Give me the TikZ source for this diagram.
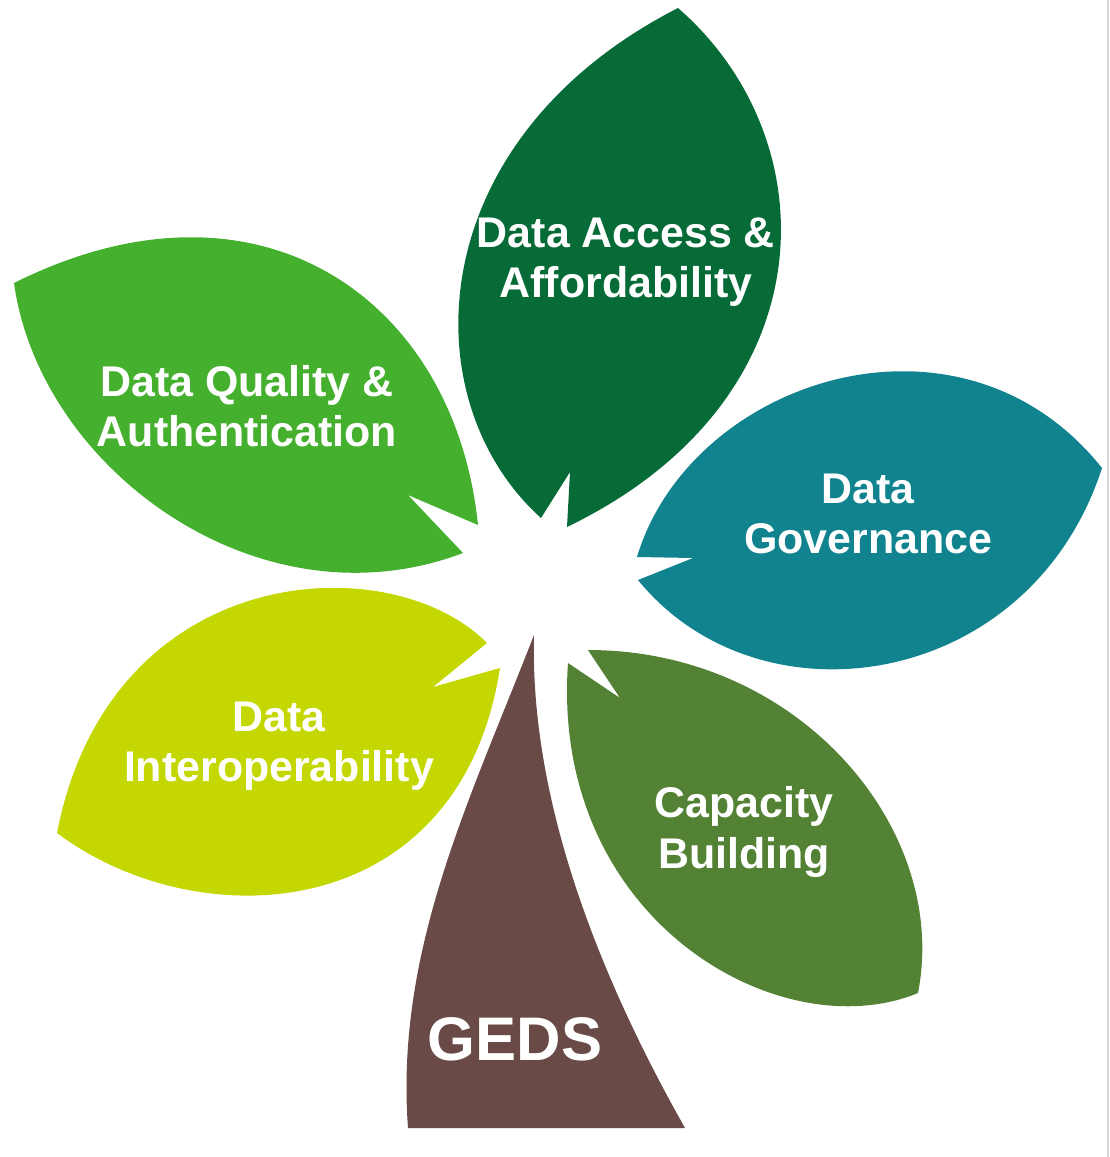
\documentclass[tikz,border=0pt]{standalone}
\usepackage{fontspec}
\setmainfont{Liberation Sans}
\usetikzlibrary{positioning}
\definecolor{access_green}{HTML}{076B38}
\definecolor{quality_green}{HTML}{45B02E}
\definecolor{governance_teal}{HTML}{10838F}
\definecolor{interop_lime}{HTML}{C4D700}
\definecolor{capacity_olive}{HTML}{548235}
\definecolor{trunk_brown}{HTML}{694A47}
\definecolor{edge_grey}{HTML}{D4D4D4}
\tikzstyle{leaf_label} = [
    white, 
    font=\bfseries\fontsize{12.2}{14.3}\selectfont, 
    align=center, 
    inner sep=0pt
]
\tikzstyle{trunk_label} = [
    white, 
    font=\bfseries\fontsize{17.5}{20}\selectfont, 
    inner sep=0pt
]
\begin{document}
\begin{tikzpicture}[x=0.01cm, y=-0.01cm]
\useasboundingbox (0,0) rectangle (1110,1157);
\draw [edge_grey, line width=0.6pt] (1108,0) -- (1108,1157);

% leaves, each with a notch at its base
\fill [access_green] (541,518) .. controls (410,400) and (420,140) .. (678,8)
    .. controls (830,140) and (830,400) .. (567,527) -- (570,472) -- cycle;
\fill [quality_green] (478,525) .. controls (455,300) and (260,160) .. (14,283)
    .. controls (40,470) and (260,630) .. (463,553) -- (408,495) -- cycle;
\fill [governance_teal] (637,557) .. controls (690,380) and (960,290) .. (1102,468)
    .. controls (1030,690) and (760,730) .. (638,580) -- (693,558) -- cycle;
\fill [interop_lime] (487,643) .. controls (390,545) and (110,560) .. (57,833)
    .. controls (200,940) and (460,925) .. (500,668) -- (433,687) -- cycle;
\fill [capacity_olive] (588,650) .. controls (800,650) and (950,830) .. (918,993)
    .. controls (780,1050) and (550,920) .. (568,663) -- (620,698) -- cycle;

% trunk
\fill [trunk_brown] (534,635) .. controls (470,800) and (395,950) .. (408,1128)
    -- (685,1128) .. controls (590,960) and (530,790) .. (534,635) -- cycle;

\node [leaf_label] (access_label) at (626,262) {Data Access \&\\Affordability};
\node [leaf_label] (quality_label) at (247,406) {Data Quality \&\\Authentication};
\node [leaf_label] (governance_label) at (868,514) {Data\\Governance};
\node [leaf_label] (interop_label) at (279,746) {Data\\Interoperability};
\node [leaf_label] (capacity_label) at (744,832) {Capacity\\Building};
\node [trunk_label] (geds_label) at (515,1039) {GEDS};
\end{tikzpicture}
\end{document}
